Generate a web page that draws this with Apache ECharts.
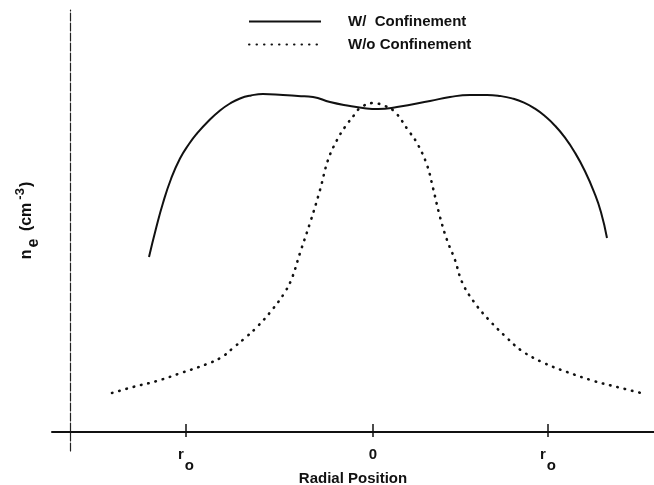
<!DOCTYPE html>
<html>
<head>
<meta charset="utf-8">
<script src="https://cdn.jsdelivr.net/npm/echarts@6/dist/echarts.min.js"></script>
<style>
  html, body { margin: 0; padding: 0; background: #fff; }
  #chart { width: 654px; height: 485px; }
</style>
</head>
<body>
<div id="chart"></div>
<script>
// Series names shown in the legend
const seriesNames = ['W/  Confinement', 'W/o Confinement'];

// Electron density profile with confinement: radial position (mm) and n_e (arb. units)
const confinedR  = [-22.4, -21.7, -21.0, -20.2, -19.3, -18.4, -17.6, -16.5, -15.3, -14.3, -13.3, -12.2, -11.0, -9.0, -7.5, -6.0, -4.3, -2.3, -1.0, 0.5, 2.4, 5.7, 7.7, 9.7, 11.4, 12.7, 13.9, 15.1, 16.2, 17.2, 18.2, 19.2, 20.2, 21.2, 22.1, 22.8, 23.4];
const confinedNe = [1.75, 2.035, 2.29, 2.53, 2.735, 2.88, 2.985, 3.105, 3.215, 3.285, 3.335, 3.365, 3.38, 3.37, 3.36, 3.35, 3.30, 3.26, 3.24, 3.23, 3.25, 3.31, 3.35, 3.37, 3.37, 3.36, 3.336, 3.294, 3.233, 3.158, 3.063, 2.943, 2.793, 2.608, 2.401, 2.198, 1.94];

// Electron density profile without confinement
const freeR  = [-26.1, -24.0, -21.6, -19.5, -16.6, -15.1, -14.0, -12.8, -11.6, -10.1, -8.8, -8.1, -7.3, -6.3, -5.3, -4.5, -3.6, -2.8, -1.8, -1.3, 0.0, 1.2, 2.2, 3.5, 4.4, 5.4, 6.0, 6.7, 7.4, 8.2, 8.9, 10.1, 11.6, 13.3, 14.9, 17.1, 19.4, 22.1, 24.4, 26.8];
const freeNe = [0.39, 0.45, 0.51, 0.58, 0.68, 0.75, 0.84, 0.94, 1.05, 1.22, 1.40, 1.54, 1.79, 2.09, 2.42, 2.72, 2.92, 3.05, 3.18, 3.24, 3.29, 3.26, 3.20, 3.02, 2.89, 2.67, 2.44, 2.15, 1.92, 1.72, 1.50, 1.30, 1.12, 0.95, 0.81, 0.69, 0.60, 0.51, 0.45, 0.39];

// Radial axis ticks and their labels (r_o on both sides of the centre)
const tickR = [-18.7, 0, 17.5];
const tickLabels = ['{r|r}{o|o}', '{z|0}', '{r|r}{o|o}'];

const FONT = '"Liberation Sans", Arial, Helvetica, sans-serif';
const INK = '#111';

const pairs = (xs, ys) => xs.map((x, i) => [x, ys[i]]);

const chart = echarts.init(document.getElementById('chart'), null, { renderer: 'canvas' });

const labelText = { fontFamily: FONT, fontWeight: 'bold', fontSize: 15, color: INK, verticalAlign: 'top' };

chart.setOption({
  animation: false,
  backgroundColor: '#fff',
  grid: { left: 52, right: 0, top: 10, bottom: 34, containLabel: false, outerBoundsMode: 'none' },
  legend: {
    data: seriesNames,
    orient: 'vertical',
    left: 248,
    top: 14,
    itemWidth: 72,
    itemHeight: 14,
    itemGap: 8,
    padding: 0,
    itemStyle: { opacity: 0 },
    formatter: (n) => '{t|' + n + '}',
    textStyle: {
      rich: {
        t: { fontFamily: FONT, fontWeight: 'bold', fontSize: 15, color: INK, padding: [0, 0, 0, 22] }
      }
    }
  },
  xAxis: [
    {
      type: 'value',
      min: -32.1,
      max: 28.1,
      position: 'bottom',
      axisLine: { show: true, onZero: true, lineStyle: { color: INK, width: 2 } },
      splitLine: { show: false },
      axisTick: { show: true, customValues: tickR, inside: true, length: 8, lineStyle: { color: INK, width: 1.5 } },
      axisLabel: {
        show: true,
        customValues: tickR,
        margin: -4,
        formatter: (v) => tickLabels[tickR.indexOf(v)],
        rich: {
          r: labelText,
          o: Object.assign({}, labelText, { padding: [11, 0, 0, 1] }),
          z: labelText
        }
      },
      name: 'Radial Position',
      nameLocation: 'middle',
      nameGap: 20,
      nameMoveOverlap: false,
      nameTextStyle: { fontFamily: FONT, fontWeight: 'bold', fontSize: 15, color: INK }
    },
    {
      // outward half of the radial tick marks
      type: 'value',
      min: -32.1,
      max: 28.1,
      position: 'bottom',
      axisLine: { show: false, onZero: true, onZeroAxisIndex: 0 },
      splitLine: { show: false },
      axisTick: { show: true, customValues: tickR, inside: false, length: 5, lineStyle: { color: INK, width: 1.5 } },
      axisLabel: { show: false }
    }
  ],
  yAxis: {
    type: 'value',
    min: -0.19,
    max: 4.22,
    position: 'left',
    offset: -18,
    axisLine: { show: true, onZero: false, lineStyle: { color: '#222', width: 1.2, type: [8, 2] } },
    axisTick: { show: false },
    axisLabel: { show: false },
    splitLine: { show: false },
    name: '{p|}{b|n}{sub|e}{b| (cm}{sup|-3}{b|)}',
    nameLocation: 'middle',
    nameRotate: 90,
    nameGap: 28,
    nameTextStyle: {
      rich: {
        p: { padding: [0, 0, 0, 20] },
        b: Object.assign({}, labelText, { fontSize: 16, padding: [5, 0, 0, 0] }),
        sub: Object.assign({}, labelText, { fontSize: 16, padding: [12, 3, 0, 2] }),
        sup: Object.assign({}, labelText, { fontSize: 13, padding: [0, 1, 0, 3] })
      }
    }
  },
  series: [
    {
      name: seriesNames[0],
      type: 'line',
      xAxisIndex: 0,
      data: pairs(confinedR, confinedNe),
      smooth: 0.5,
      symbol: 'none',
      lineStyle: { color: INK, width: 2 },
      itemStyle: { color: INK }
    },
    {
      name: seriesNames[1],
      type: 'line',
      xAxisIndex: 0,
      data: pairs(freeR, freeNe),
      smooth: 0.4,
      symbol: 'none',
      lineStyle: { color: INK, width: 2.6, type: [0.5, 7], cap: 'round' },
      itemStyle: { color: INK }
    }
  ]
});
</script>
</body>
</html>
